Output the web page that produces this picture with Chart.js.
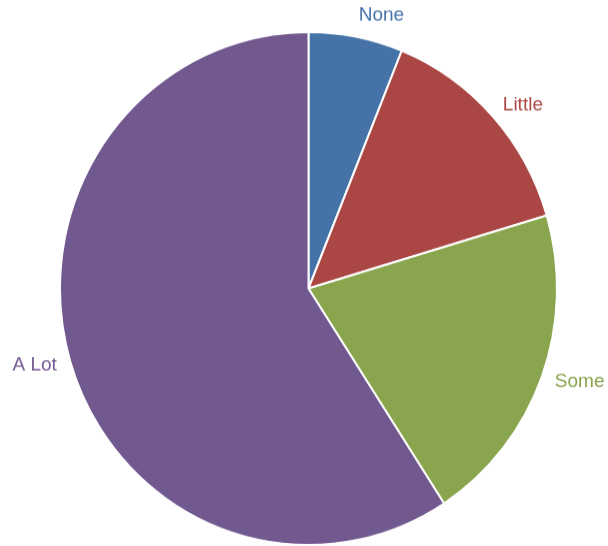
<!DOCTYPE html>
<html>
<head>
<meta charset="utf-8">
<script src="https://cdn.jsdelivr.net/npm/chart.js@4/dist/chart.umd.min.js"></script>
<style>
  html, body { margin: 0; padding: 0; background: #fff; }
  #wrap { width: 608px; height: 546px; overflow: hidden; }
  /* the pie is drawn a little taller than wide */
  #myPieChart { display: block; width: 608px !important; height: 546px !important; }
</style>
</head>
<body>
<div id="wrap"><canvas id="myPieChart" width="608" height="529"></canvas></div>
<script>
var labels = ["None", "Little", "Some", "A Lot"];
var counts = [3, 7, 10, 29];
var colors = ["#4572A7", "#AA4643", "#89A54E", "#71588F"];

// slice names written just outside the rim, in the slice colour
var outsideLabels = {
    id: 'outsideLabels',
    afterDatasetsDraw: function (chart) {
        var ctx = chart.ctx;
        var arcs = chart.getDatasetMeta(0).data;
        ctx.save();
        ctx.font = '19px "Liberation Sans", Arial, sans-serif';
        ctx.textBaseline = 'middle';
        arcs.forEach(function (arc, i) {
            var p = arc.getProps(['x', 'y', 'startAngle', 'endAngle', 'outerRadius'], true);
            var mid = (p.startAngle + p.endAngle) / 2;
            var r = p.outerRadius + 14;
            var x = p.x + Math.cos(mid) * r;
            var y = p.y + Math.sin(mid) * r;
            var up = Math.max(0, -Math.sin(mid));
            y -= 8 * Math.pow(up, 4);
            ctx.textAlign = Math.cos(mid) >= 0 ? 'left' : 'right';
            ctx.fillStyle = colors[i];
            ctx.fillText(labels[i], x, y);
        });
        ctx.restore();
    }
};

var ctx = document.getElementById("myPieChart");
var myPieChart = new Chart(ctx, {
    type: 'pie',
    data: {
        labels: labels,
        datasets: [{
            data: counts,
            backgroundColor: colors,
            borderColor: '#ffffff',
            borderWidth: 2
        }]
    },
    options: {
        responsive: false,
        animation: false,
        layout: {
            padding: { left: 59, right: 50, top: 30, bottom: 0 }
        },
        plugins: {
            legend: { display: false },
            tooltip: { enabled: false }
        }
    },
    plugins: [outsideLabels]
});
</script>
</body>
</html>
